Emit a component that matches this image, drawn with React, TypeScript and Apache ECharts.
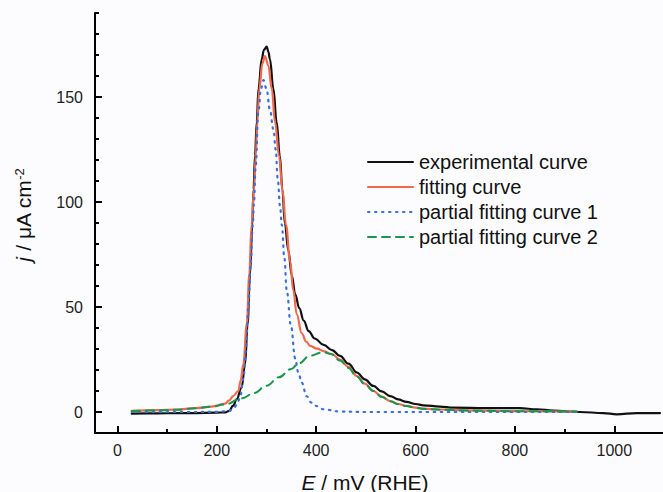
import React, { useEffect, useRef } from "react";
import * as echarts from "echarts";

const experimentalCurve: [number, number][] = [
  [29, -0.8], [60, -0.7], [100, -0.6], [150, -0.5], [200, -0.3], [217, -0.2], [225, 0.5], [233, 3], [240, 6],
  [250, 11.6], [257, 22.7], [262, 41.8], [267, 65.6], [271.5, 89], [274, 106], [277, 122], [280.5, 138], [284, 154],
  [290.5, 168], [295, 172.5], [300.5, 174], [304, 171.5], [307, 168], [314, 154], [320.5, 138], [327, 122], [332, 106],
  [337, 90], [344, 77], [351, 65], [358, 56], [366, 49.5], [375, 43.5], [385, 38.5], [397, 35], [415, 32], [432, 29.5],
  [448, 26.7], [465, 23], [482, 18.8], [498, 15.5], [515, 12.4], [532, 9.8], [549, 7.6], [565, 6], [582, 4.8],
  [600, 3.8], [616, 3.2], [649, 2.6], [676, 2.1], [743, 1.8], [810, 1.8], [844, 1.3], [877, 0.7], [931, 0],
  [978, -0.5], [1005, -1.1], [1045, -0.5], [1092, -0.5],
];

const fittingCurve: [number, number][] = [
  [29, 0.5], [80, 0.9], [120, 1.2], [156, 1.8], [190, 2.6], [217, 4], [225, 5.5], [233, 7.6], [243.5, 10], [248, 15],
  [253.5, 22.7], [260.5, 41.8], [265.5, 65.6], [270, 89], [275, 106], [278.5, 122], [281.7, 138], [285.7, 154],
  [291.8, 166], [297, 169.5], [303.8, 165], [310.7, 154], [317.3, 138], [325.4, 122], [332, 106], [339.4, 89],
  [347.5, 72], [354, 58], [361, 46.5], [371, 37.5], [380, 33.5], [388, 31.5], [402, 30.2], [415, 29], [432, 27.5],
  [448, 25], [465, 21.5], [482, 17.1], [498, 13.5], [515, 10], [532, 7.3], [549, 5.2], [565, 3.8], [582, 2.9],
  [600, 2.1], [616, 1.6], [649, 1.2], [700, 0.8], [800, 0.4], [924, 0.2],
];

const partialCurve1: [number, number][] = [
  [29, 0], [150, 0], [200, 0.1], [225, 0.5], [235, 2], [242, 4.5], [247, 7], [253.8, 16], [258.4, 29], [263.6, 50],
  [268.4, 71], [272.4, 89], [275, 100], [278, 116], [283.8, 143], [289, 154], [294, 158], [300, 154], [307, 144],
  [314, 134.6], [318.7, 125], [322.7, 111], [327.4, 98], [331, 89], [336, 73.5], [341, 57.6], [349, 41.5],
  [358, 25.5], [364, 19], [371, 14], [381, 7.5], [390, 4.5], [398, 3], [415, 1.3], [448, 0.2], [500, 0], [924, 0],
];

const partialCurve2: [number, number][] = [
  [29, 0.5], [80, 0.8], [120, 1.1], [156, 1.8], [190, 2.5], [217, 3.6], [250, 6.5], [275, 9], [300, 12.5],
  [325, 16.5], [350, 20.5], [364, 23], [388, 26.8], [414, 28.5], [430, 27.6], [448, 24.5], [465, 21], [482, 16.8],
  [498, 13.2], [515, 10], [532, 7.2], [549, 5.1], [565, 3.7], [582, 2.8], [600, 2], [616, 1.5], [649, 1.1],
  [700, 0.7], [800, 0.4], [924, 0.2],
];

const seriesNames = ["experimental curve", "fitting curve", "partial fitting curve 1", "partial fitting curve 2"];
const xMajorTicks = [0, 200, 400, 600, 800, 1000];
const xMinorTicks = [100, 300, 500, 700, 900];
const yMajorTicks = [0, 50, 100, 150];
const yMinorTicks = [10, 20, 30, 40, 60, 70, 80, 90, 110, 120, 130, 140, 160, 170, 180, 190];

const FONT = "'Liberation Sans', Arial, sans-serif";

export default function App() {
  const ref = useRef<HTMLDivElement>(null);
  useEffect(() => {
    if (!ref.current) return;
    const chart = echarts.init(ref.current, null, { renderer: "svg" });
    const axisLineStyle = { color: "#000", width: 2 };
    const xBase = { type: "value", min: -45, max: 1098, position: "bottom", splitLine: { show: false } };
    const yBase = { type: "value", min: -10, max: 190, position: "left", splitLine: { show: false } };
    const fmt = (v: number) => String(v);
    const mk = (name: string, data: [number, number][], color: string, type: any, width: number, z: number) => ({
      name,
      type: "line",
      data,
      symbol: "none",
      showSymbol: false,
      smooth: 0.4,
      smoothMonotone: "x",
      xAxisIndex: 0,
      yAxisIndex: 0,
      z,
      lineStyle: { color, width, type, cap: "round" },
      itemStyle: { color },
    });
    chart.setOption({
      animation: false,
      backgroundColor: "#fcfcfe",
      grid: { left: 95, right: 0, top: 13, bottom: 59, containLabel: false },
      xAxis: [
        {
          ...xBase,
          axisLine: { show: true, onZero: false, lineStyle: axisLineStyle },
          axisTick: { show: true, inside: true, length: 7, customValues: xMajorTicks, lineStyle: { color: "#000", width: 2 } },
          axisLabel: { show: true, customValues: xMajorTicks, formatter: fmt, fontSize: 16, color: "#222", fontFamily: FONT, margin: 9 },
        },
        {
          ...xBase,
          axisLine: { show: false, onZero: false },
          axisTick: { show: true, inside: true, length: 4, customValues: xMinorTicks, lineStyle: { color: "#000", width: 2 } },
          axisLabel: { show: false },
        },
      ],
      yAxis: [
        {
          ...yBase,
          axisLine: { show: true, onZero: false, lineStyle: axisLineStyle },
          axisTick: { show: true, inside: true, length: 7, customValues: yMajorTicks, lineStyle: { color: "#000", width: 2 } },
          axisLabel: { show: true, customValues: yMajorTicks, formatter: fmt, fontSize: 16, color: "#222", fontFamily: FONT, margin: 12 },
        },
        {
          ...yBase,
          axisLine: { show: false, onZero: false },
          axisTick: { show: true, inside: true, length: 4, customValues: yMinorTicks, lineStyle: { color: "#000", width: 2 } },
          axisLabel: { show: false },
        },
      ],
      legend: {
        orient: "vertical",
        left: 367,
        top: 152,
        padding: 0,
        itemWidth: 45,
        itemHeight: 14,
        itemGap: 5,
        data: seriesNames,
        itemStyle: { opacity: 0 },
        textStyle: { fontSize: 20, lineHeight: 20, color: "#111", fontFamily: FONT, padding: [0, 0, 0, 1] },
      },
      graphic: [
        {
          type: "text",
          x: 365,
          y: 482,
          style: {
            text: "{i|E} / mV (RHE)",
            align: "center",
            verticalAlign: "middle",
            fontSize: 21,
            fontFamily: FONT,
            fill: "#111",
            rich: { i: { fontStyle: "italic", fontSize: 21, fontFamily: FONT, fill: "#111" } },
          },
        },
        {
          type: "text",
          x: 23,
          y: 215,
          rotation: Math.PI / 2,
          style: {
            text: "{i|j} / μA cm{s|-2}",
            align: "center",
            verticalAlign: "middle",
            fontSize: 21,
            fontFamily: FONT,
            fill: "#111",
            rich: {
              i: { fontStyle: "italic", fontSize: 21, fontFamily: FONT, fill: "#111" },
              s: { fontSize: 13, fontFamily: FONT, fill: "#111", verticalAlign: "top" },
            },
          },
        },
      ],
      series: [
        mk(seriesNames[0], experimentalCurve, "#111111", "solid", 2.2, 3),
        mk(seriesNames[1], fittingCurve, "#f2694a", "solid", 2.2, 4),
        mk(seriesNames[2], partialCurve1, "#3b6fd8", [1.5, 5.5], 2.2, 5),
        mk(seriesNames[3], partialCurve2, "#17964e", [8, 6], 2, 6),
      ],
    });
    return () => chart.dispose();
  }, []);
  return <div ref={ref} style={{ position: "fixed", left: 0, top: 0, width: 663, height: 492 }} />;
}
